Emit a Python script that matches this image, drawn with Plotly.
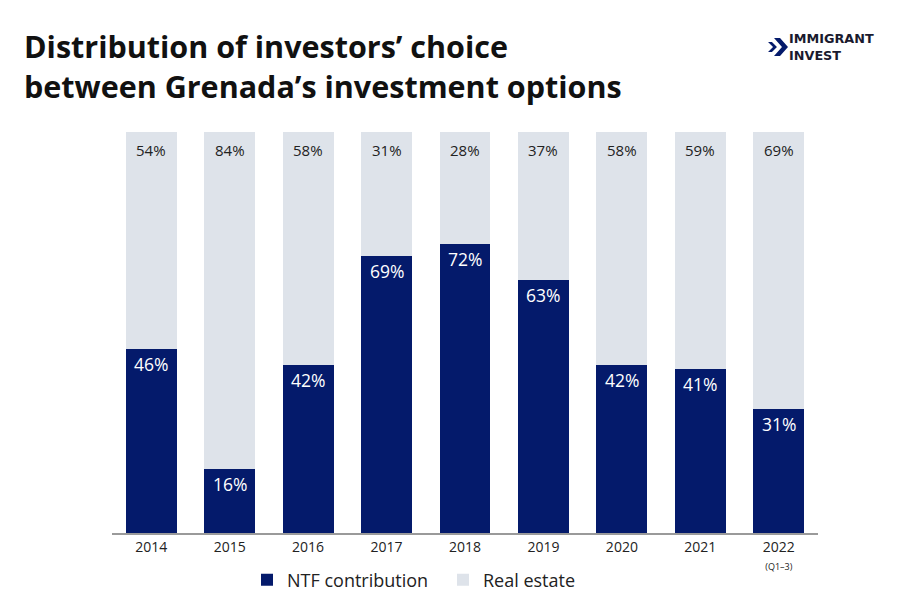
import plotly.graph_objects as go

years = ["2014", "2015", "2016", "2017", "2018", "2019", "2020", "2021", "2022"]
tick_text = ["2014", "2015", "2016", "2017", "2018", "2019", "2020", "2021",
             "2022<br><span style='font-size:9px'>(Q1–3)</span>"]
ntf = [46, 16, 42, 69, 72, 63, 42, 41, 31]
real_estate = [54, 84, 58, 31, 28, 37, 58, 59, 69]

NAVY = "#041a6b"
LIGHT = "#dee3ea"
FONT = "Open Sans"

# the page puts the figure 8px in from the top-left corner
OFF = 8
W, H = 900, 600
# plot area in screen pixels
L, R, T, B = 112 - OFF, 818 - OFF, 132 - OFF, 533 - OFF


def px_to_paper(x, y):
    # screen pixel -> paper coords
    return (x - OFF - L) / (R - L), (B - (y - OFF)) / (B - T)


fig = go.Figure()
fig.add_trace(go.Bar(x=years, y=ntf, name="NTF contribution",
                     marker=dict(color=NAVY, line_width=0)))
fig.add_trace(go.Bar(x=years, y=real_estate, name="Real estate",
                     marker=dict(color=LIGHT, line_width=0)))

# value labels just below the top of each segment (x given as category index)
for i, (n, r) in enumerate(zip(ntf, real_estate)):
    fig.add_annotation(x=i, y=n, yshift=-15, text=f"{n}%", showarrow=False,
                       yanchor="middle", font=dict(color="white", size=17.5, family=FONT))
    fig.add_annotation(x=i, y=n + r, yshift=-18, text=f"{r}%", showarrow=False,
                       yanchor="middle", font=dict(color="#222222", size=15, family=FONT))

fig.update_layout(
    width=W, height=H, barmode="stack", bargap=0.35,
    paper_bgcolor="white", plot_bgcolor="white",
    margin=dict(l=L, r=W - R, t=T, b=H - B, pad=0, autoexpand=False),
    font=dict(family=FONT, color="#222222"),
    xaxis=dict(type="category", tickmode="array", tickvals=years, ticktext=tick_text,
               automargin=False, tickfont=dict(size=14, color="#222222"), showline=True,
               linecolor="#9a9a9a", linewidth=1.5, ticks="", showgrid=False, range=[-0.5, 8.5]),
    yaxis=dict(range=[0, 100], visible=False, showgrid=False),
    legend=dict(orientation="h", x=px_to_paper(247, 0)[0], xanchor="left",
                y=px_to_paper(0, 580)[1], yanchor="middle",
                font=dict(size=18, color="#222222"), itemwidth=30, traceorder="normal",
                entrywidth=151),
    showlegend=True,
)

# title
fig.add_annotation(
    text="<b>Distribution of investors’ choice<br>between Grenada’s investment options</b>",
    xref="paper", yref="paper", x=px_to_paper(22, 0)[0], y=px_to_paper(0, 23)[1],
    xanchor="left", yanchor="top", align="left", showarrow=False,
    font=dict(size=30.5, color="#111111", family=FONT),
)

# logo text
fig.add_annotation(
    text="<b>IMMIGRANT<br>INVEST</b>",
    xref="paper", yref="paper", x=px_to_paper(787, 0)[0], y=px_to_paper(0, 47)[1],
    xanchor="left", yanchor="middle", align="left", showarrow=False,
    font=dict(size=12.8, color="#1a1a2e", family="DejaVu Sans"),
)

# logo chevrons
def path_from(points):
    pts = [px_to_paper(x, y) for x, y in points]
    return "M " + " L ".join(f"{x:.4f},{y:.4f}" for x, y in pts) + " Z"


big = [(774, 38), (780, 38), (788, 47), (780, 56), (774, 56), (782, 47)]
small = [(768, 42), (772, 42), (777, 47), (772, 52), (768, 52), (773, 47)]
for pts in (big, small):
    fig.add_shape(type="path", xref="paper", yref="paper", path=path_from(pts),
                  fillcolor=NAVY, line_width=0)

fig.write_html("out.html")
